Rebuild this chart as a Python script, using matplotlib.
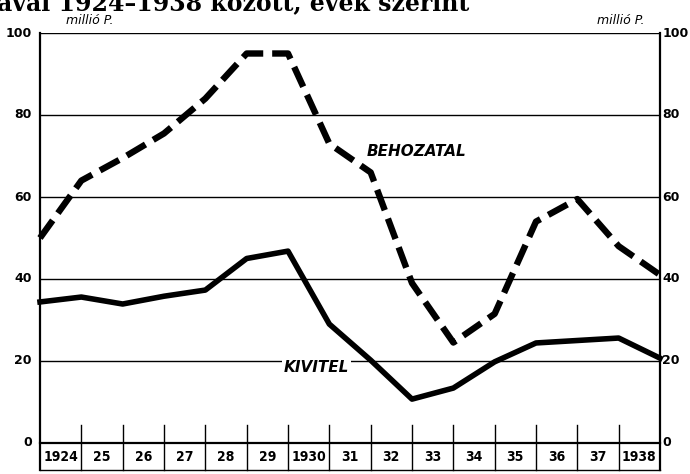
import numpy as np
import matplotlib
matplotlib.use("Agg")
import matplotlib.pyplot as plt

# values, one point per year boundary (16 points)
points = np.arange(16)
behozatal = [50, 64, 69.5, 75.5, 84, 95, 95, 73, 66, 39, 24.5, 31.5, 54, 59.5, 48, 41]
kivitel = [34.4, 35.6, 33.9, 35.8, 37.3, 45, 46.8, 29, 20.2, 10.7, 13.4, 19.8, 24.4, 25, 25.6, 20.7]
years = ["1924", "25", "26", "27", "28", "29", "1930", "31", "32", "33",
         "34", "35", "36", "37", "1938"]
yticks = [0, 20, 40, 60, 80, 100]

fig = plt.figure(figsize=(6.9, 4.74), dpi=100)
ax = fig.add_axes([40 / 690, 1 - 443 / 474, 620 / 690, 410 / 474])
ax.set_xlim(0, 15)
ax.set_ylim(0, 100)

# grid lines
for v in yticks[1:]:
    ax.axhline(v, color="black", lw=1.0, zorder=1)

# year dividers and label row below the zero line
for i in range(1, 15):
    ax.plot([i, i], [-6.6, 4.5], color="black", lw=1.0, clip_on=False)
ax.plot([0, 15], [-6.6, -6.6], color="black", lw=1.0, clip_on=False)
ax.plot([0, 0], [-6.6, 100], color="black", lw=1.6, clip_on=False)
ax.plot([15, 15], [-6.6, 100], color="black", lw=1.6, clip_on=False)
for i, lab in enumerate(years):
    ax.text(i + 0.5, -3.3, lab, ha="center", va="center", fontsize=10,
            fontweight="bold", fontstretch="condensed")

# the two series
ax.plot(points, behozatal, color="black", lw=4.6, dashes=(3.4, 1.4),
        solid_joinstyle="miter", zorder=3, clip_on=False)
ax.plot(points, kivitel, color="black", lw=4.0, zorder=3, clip_on=False)

ax.text(7.9, 71, "BEHOZATAL", fontsize=11, fontweight="bold", style="italic",
        ha="left", va="center")
ax.text(5.9, 18.3, "KIVITEL", fontsize=11, fontweight="bold", style="italic",
        ha="left", va="center",
        bbox=dict(facecolor="white", edgecolor="none", pad=1.5), zorder=4)

# axis labels on both sides
for v in yticks:
    ax.text(-0.2, v, str(v), ha="right", va="center", fontsize=9,
            fontweight="bold")
    ax.text(15.06, v, str(v), ha="left", va="center", fontsize=9,
            fontweight="bold")
ax.text(1.2, 101.4, "millió P.", fontsize=9, style="italic", ha="center", va="bottom")
ax.text(14.05, 101.4, "millió P.", fontsize=9, style="italic", ha="center", va="bottom")

for s in ax.spines.values():
    s.set_visible(False)
ax.spines["bottom"].set_visible(True)
ax.spines["bottom"].set_linewidth(1.6)
ax.set_xticks([])
ax.set_yticks([])

# cropped title line at the very top
fig.text(-0.005, 1 - 10 / 474, "ával 1924–1938 között, évek szerint", fontsize=17,
         fontweight="bold", family="DejaVu Serif", ha="left", va="baseline")

fig.savefig("out.png", dpi=100)
